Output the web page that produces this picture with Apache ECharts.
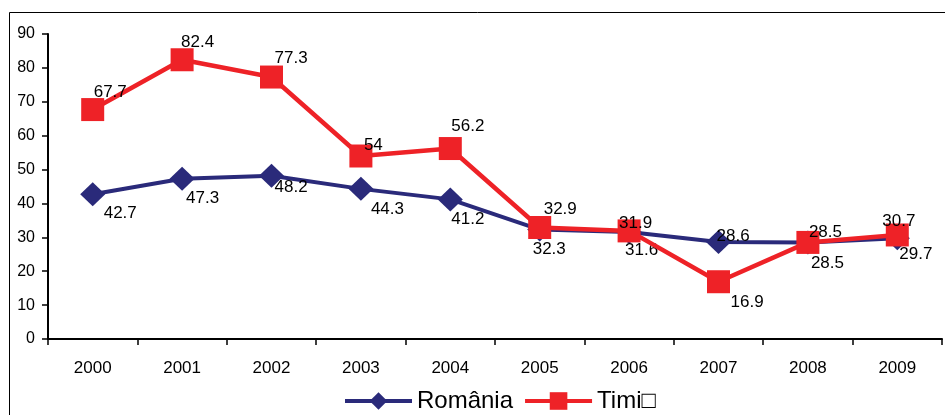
<!DOCTYPE html>
<html>
<head>
<meta charset="utf-8">
<script src="https://cdn.jsdelivr.net/npm/echarts@6/dist/echarts.min.js"></script>
<style>
html,body{margin:0;padding:0;background:#fff;}
#chart{width:945px;height:415px;}
</style>
</head>
<body>
<div id="chart"></div>
<script>
const years = ['2000','2001','2002','2003','2004','2005','2006','2007','2008','2009'];
const romania = [42.7, 47.3, 48.2, 44.3, 41.2, 32.3, 31.6, 28.6, 28.5, 29.7];
const timis = [67.7, 82.4, 77.3, 54, 56.2, 32.9, 31.9, 16.9, 28.5, 30.7];
const yTicks = [0, 10, 20, 30, 40, 50, 60, 70, 80, 90];

// Per-point value label placement (pixels from the marker centre)
const romaniaLabelOffset = [[11,19],[4,20],[3,12],[10,20],[1,20],[-7,20],[-4,18],[-2,-6],[3,21],[2,16]];
const timisLabelOffset = [[1,-17],[-1,-17],[3,-19],[3,-11],[1,-22],[4,-18],[-10,-8],[12,21],[1,-10],[-15,-14]];

const chart = echarts.init(document.getElementById('chart'));
const font = 'Liberation Sans, Arial, sans-serif';

const withOffsets = (values, offsets) =>
  values.map((v, i) => ({ value: v, label: { offset: offsets[i] } }));

chart.setOption({
  animation: false,
  backgroundColor: '#fff',
  graphic: [{
    type: 'rect',
    shape: { x: 9.5, y: 12.5, width: 940, height: 410 },
    style: { fill: 'none', stroke: '#000', lineWidth: 1 },
    silent: true
  }],
  grid: { left: 48, right: 3, top: 34, bottom: 76 },
  legend: {
    left: 338,
    top: 384,
    itemWidth: 67,
    itemHeight: 22,
    itemGap: 10,
    lineStyle: { width: 4 },
    textStyle: { fontFamily: font, fontSize: 24, color: '#000' },
    data: ['România', 'Timi□']
  },
  xAxis: {
    type: 'category',
    data: years,
    boundaryGap: true,
    axisLine: { lineStyle: { color: '#000', width: 2 } },
    axisTick: { show: true, length: 6, lineStyle: { color: '#000', width: 1.5 } },
    axisLabel: { fontFamily: font, fontSize: 17, color: '#000', margin: 21 }
  },
  yAxis: {
    type: 'value',
    min: 0,
    max: 90,
    interval: 10,
    splitLine: { show: false },
    axisLine: { show: true, lineStyle: { color: '#000', width: 2 } },
    axisTick: { show: true, length: 6, lineStyle: { color: '#000', width: 1.5 } },
    axisLabel: {
      fontFamily: font, fontSize: 16, color: '#000', margin: 13,
      formatter: v => yTicks.includes(v) ? String(v) : ''
    }
  },
  series: [
    {
      name: 'România',
      type: 'line',
      data: withOffsets(romania, romaniaLabelOffset),
      symbol: 'diamond',
      symbolSize: [25, 24],
      lineStyle: { color: '#2a2a7a', width: 4 },
      itemStyle: { color: '#2a2a7a' },
      label: {
        show: true,
        position: 'inside',
        align: 'left',
        verticalAlign: 'middle',
        fontFamily: font, fontSize: 17, color: '#000'
      },
      z: 2
    },
    {
      name: 'Timi□',
      type: 'line',
      data: withOffsets(timis, timisLabelOffset),
      symbol: 'rect',
      symbolSize: 23,
      lineStyle: { color: '#ee2227', width: 4.5 },
      itemStyle: { color: '#ee2227' },
      label: {
        show: true,
        position: 'inside',
        align: 'left',
        verticalAlign: 'middle',
        fontFamily: font, fontSize: 17, color: '#000'
      },
      z: 3
    }
  ]
});
</script>
</body>
</html>
